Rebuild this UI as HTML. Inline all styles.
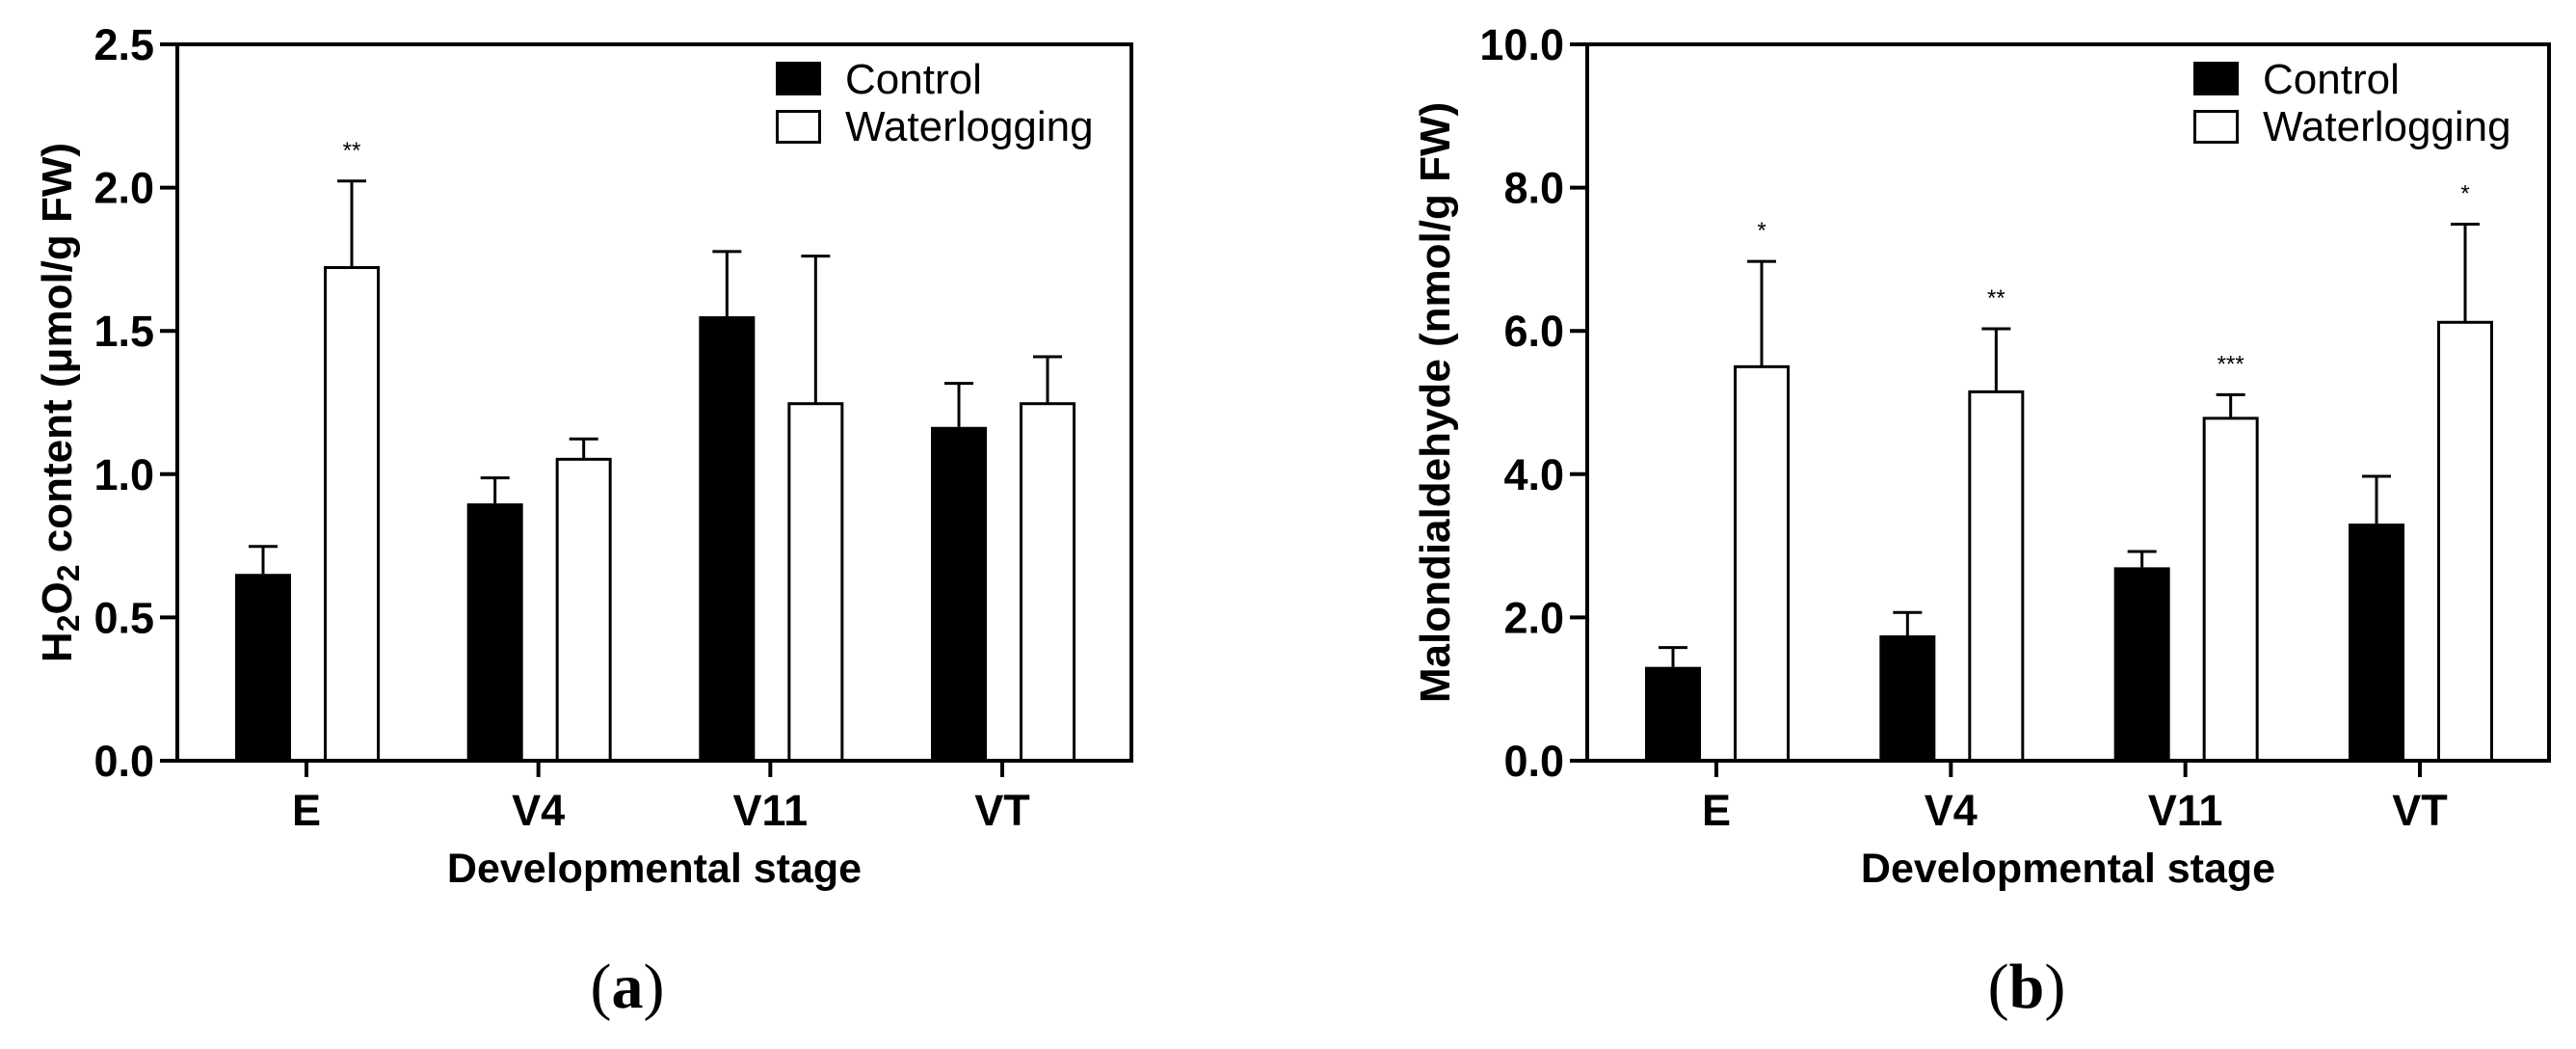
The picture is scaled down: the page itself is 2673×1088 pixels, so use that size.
<!DOCTYPE html>
<html><head><meta charset="utf-8"><style>
html,body{margin:0;padding:0;background:#fff;}
svg{display:block;}
text{font-family:"Liberation Sans",Arial,sans-serif;fill:#000;}
</style></head><body>
<svg id="fig" width="2673" height="1088" viewBox="0 0 2673 1088"></svg>
<script>
const categories = ["E","V4","V11","VT"];
const seriesNames = ["Control","Waterlogging"];
const h2o2Control = [0.652,0.898,1.551,1.165];
const h2o2ControlErr = [0.748,0.987,1.777,1.317];
const h2o2Water = [1.721,1.052,1.246,1.246];
const h2o2WaterErr = [2.023,1.123,1.761,1.410];
const h2o2Stars = ["**","","",""];
const h2o2Ticks = ["0.0","0.5","1.0","1.5","2.0","2.5"];
const mdaControl = [1.31,1.75,2.70,3.31];
const mdaControlErr = [1.58,2.07,2.92,3.97];
const mdaWater = [5.50,5.15,4.78,6.12];
const mdaWaterErr = [6.97,6.03,5.11,7.49];
const mdaStars = ["*","**","***","*"];
const mdaTicks = ["0.0","2.0","4.0","6.0","8.0","10.0"];

const NS="http://www.w3.org/2000/svg";
const svg=document.getElementById('fig');
function mk(tag,attrs,parent){const e=document.createElementNS(NS,tag);for(const k in attrs)e.setAttribute(k,attrs[k]);(parent||svg).appendChild(e);return e;}

function panel(cfg){
  const g=mk('g',{});
  
  
  const L=cfg.left,R=cfg.right,T=46,B=789;
  const maxV=parseFloat(cfg.ticks[cfg.ticks.length-1]);
  const y=v=>B-(v/maxV)*(B-T);
  const x0=L+134, step=(R-L-268)/3;
  const xc=i=>x0+i*step;
  const bw=58;
  for(let i=0;i<categories.length;i++){
    const cx=xc(i)-45, wx=xc(i)+47;
    const e1=mk('g',{},g);
    
    
    mk('line',{x1:cx,x2:cx,y1:y(cfg.c[i]),y2:y(cfg.ce[i]),stroke:'#000','stroke-width':3},e1);
    mk('line',{x1:cx-15,x2:cx+15,y1:y(cfg.ce[i]),y2:y(cfg.ce[i]),stroke:'#000','stroke-width':3},e1);
    const e2=mk('g',{},g);
    
    
    mk('line',{x1:wx,x2:wx,y1:y(cfg.w[i]),y2:y(cfg.we[i]),stroke:'#000','stroke-width':3},e2);
    mk('line',{x1:wx-15,x2:wx+15,y1:y(cfg.we[i]),y2:y(cfg.we[i]),stroke:'#000','stroke-width':3},e2);
    const b1=mk('rect',{x:cx-bw/2,y:y(cfg.c[i]),width:bw,height:B-y(cfg.c[i]),fill:'#000'},g);
    
    
    const b2=mk('rect',{x:wx-bw/2+1.5,y:y(cfg.w[i]),width:bw-3,height:B-y(cfg.w[i]),fill:'#fff',stroke:'#000','stroke-width':3},g);
    
    
    if(cfg.stars[i]){
      const s=mk('text',{x:wx,y:y(cfg.we[i])-24,'font-size':24,'text-anchor':'middle'},g);
      s.textContent=cfg.stars[i];
      
      
    }
    const tk=mk('line',{x1:xc(i),x2:xc(i),y1:B,y2:B+17,stroke:'#000','stroke-width':4},g);
    
    
    const tl=mk('text',{x:xc(i),y:856,'font-size':45,'font-weight':'bold','text-anchor':'middle'},g);
    tl.textContent=categories[i];
    
    
  }
  const fr=mk('rect',{x:L,y:T,width:R-L,height:B-T,fill:'none',stroke:'#000','stroke-width':4},g);
  
  
  for(let j=0;j<cfg.ticks.length;j++){
    const v=parseFloat(cfg.ticks[j]);
    const t=mk('line',{x1:L-18,x2:L,y1:y(v),y2:y(v),stroke:'#000','stroke-width':4},g);
    
    
    const tl=mk('text',{x:L-24,y:y(v)+16,'font-size':45,'font-weight':'bold','text-anchor':'end'},g);
    tl.textContent=cfg.ticks[j];
    
    
  }
  const lg=mk('g',{},g);
  
  
  mk('rect',{x:R-369,y:64,width:47,height:35,fill:'#000'},lg);
  mk('rect',{x:R-367.5,y:115.5,width:44,height:32,fill:'#fff',stroke:'#000','stroke-width':3},lg);
  const t1=mk('text',{x:R-297,y:97,'font-size':44},lg);t1.textContent=seriesNames[0];
  
  
  const t2=mk('text',{x:R-297,y:146,'font-size':44},lg);t2.textContent=seriesNames[1];
  
  
  const xt=mk('text',{x:(L+R)/2,y:915,'font-size':43,'font-weight':'bold','text-anchor':'middle'},g);
  xt.textContent='Developmental stage';
  
  
  const cy=(T+B)/2;
  const yt=mk('text',{x:cfg.ylx,y:cy,'font-size':44,'font-weight':'bold','text-anchor':'middle',transform:'rotate(-90 '+cfg.ylx+' '+cy+')'},g);
  yt.innerHTML=cfg.ylabel;
  
  
  const pl=mk('text',{x:cfg.plx,y:1045,'font-size':66,'text-anchor':'middle',style:'font-family:"Liberation Serif",serif'},g);
  pl.innerHTML='(<tspan font-weight="bold">'+cfg.letter+'</tspan>)';
  
  
}
panel({name:'panel-a-h2o2',left:184,right:1174,ticks:h2o2Ticks,c:h2o2Control,ce:h2o2ControlErr,w:h2o2Water,we:h2o2WaterErr,stars:h2o2Stars,ylx:74,
 ylabel:'H<tspan baseline-shift="-25%" font-size="32">2</tspan>O<tspan baseline-shift="-25%" font-size="32">2</tspan> content (μmol/g FW)',plx:651,letter:'a'});
panel({name:'panel-b-mda',left:1647,right:2645,ticks:mdaTicks,c:mdaControl,ce:mdaControlErr,w:mdaWater,we:mdaWaterErr,stars:mdaStars,ylx:1504,
 ylabel:'Malondialdehyde (nmol/g FW)',plx:2103,letter:'b'});
</script>
</body></html>
